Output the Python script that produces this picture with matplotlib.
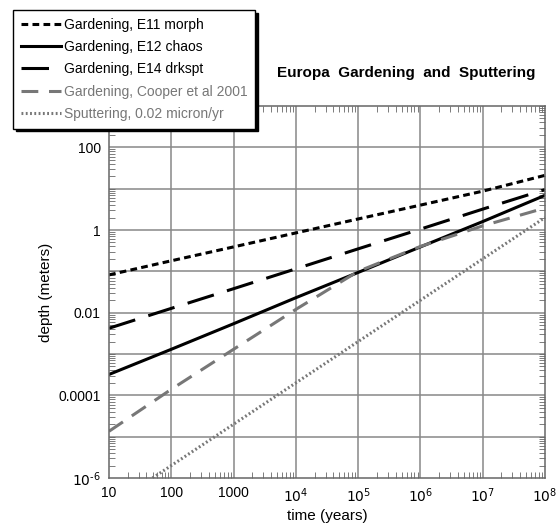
import numpy as np
import matplotlib
matplotlib.use('Agg')
import matplotlib.pyplot as plt
from matplotlib.ticker import LogLocator, FixedLocator, FixedFormatter, NullFormatter

plt.rcParams['font.family'] = ['Liberation Sans', 'DejaVu Sans']
plt.rcParams['axes.unicode_minus'] = False

# decade time points (years)
t_dec     = [10, 1e2, 1e3, 1e4, 1e5, 1e6, 1e7, 1e8]
# depths (meters)
e11_morph = [0.082, 0.18, 0.39, 0.85, 1.85, 4.0, 8.7, 21.0]
e12_chaos = [3.2e-4, 1.3e-3, 5.4e-3, 0.023, 0.094, 0.39, 1.6, 6.9]
e14_drk   = [4.2e-3, 0.0127, 0.038, 0.115, 0.35, 1.05, 3.2, 9.5]
cooper    = [1.35e-5, 1.4e-4, 1.3e-3, 0.012, 0.1, 0.4, 1.26, 3.4]
t_sput    = [50, 1e2, 1e3, 1e4, 1e5, 1e6, 1e7, 1e8]
sputter   = [1e-6, 2e-6, 2e-5, 2e-4, 2e-3, 0.02, 0.2, 2.0]

xtick_vals = [10, 1e2, 1e3, 1e4, 1e5, 1e6, 1e7, 1e8]
xtick_labs = ['10', '100', '1000', '$10^4$', '$10^5$', '$10^6$', '$10^7$', '$10^8$']
ytick_vals = [1e-6, 1e-4, 1e-2, 1, 100]
ytick_labs = [r'$10^{\text{-}6}$', '0.0001', '0.01', '1', '100']

fig = plt.figure(figsize=(5.6, 5.26), dpi=100)
ax = fig.add_axes([109/560, 1-478/526, 436/560, 372/526])

grey = '#777777'
ax.plot(t_dec, e11_morph, color='black', lw=2.2, ls=(0, (2.2, 1.4)), label='Gardening, E11 morph')
ax.plot(t_dec, e12_chaos, color='black', lw=2.2, ls='-', label='Gardening, E12 chaos')
ax.plot(t_dec, e14_drk, color='black', lw=2.2, ls=(0, (9, 4.5)), label='Gardening, E14 drkspt')
ax.plot(t_dec, cooper, color=grey, lw=2.2, ls=(0, (5.5, 3.5)), label='Gardening, Cooper et al 2001')
ax.plot(t_sput, sputter, color=grey, lw=2.2, ls=(0, (0.6, 0.8)), label='Sputtering, 0.02 micron/yr')

ax.set_xscale('log')
ax.set_yscale('log')
ax.set_xlim(10, 1e8)
ax.set_ylim(1e-6, 1e3)

ax.xaxis.set_major_locator(FixedLocator(xtick_vals))
ax.xaxis.set_major_formatter(FixedFormatter(xtick_labs))
ax.yaxis.set_major_locator(FixedLocator(ytick_vals))
ax.yaxis.set_major_formatter(FixedFormatter(ytick_labs))
ax.xaxis.set_minor_locator(LogLocator(base=10, subs=np.arange(2, 10), numticks=20))
ax.yaxis.set_minor_locator(LogLocator(base=10, subs=np.arange(1, 10), numticks=20))
ax.xaxis.set_minor_formatter(NullFormatter())
ax.yaxis.set_minor_formatter(NullFormatter())

ax.tick_params(which='both', direction='in', top=True, right=True, colors='#666666',
               labelcolor='black', labelsize=10)
ax.tick_params(which='major', length=0, pad=6)
ax.tick_params(which='minor', length=4, width=0.6)

for yv in [1e-5, 1e-4, 1e-3, 1e-2, 0.1, 1, 10, 100]:
    ax.axhline(yv, color='#888888', lw=1.1, zorder=0)
for xv in xtick_vals[1:-1]:
    ax.axvline(xv, color='#888888', lw=1.1, zorder=0)

for s in ax.spines.values():
    s.set_color('#666666')
    s.set_linewidth(1.1)

ax.set_xlabel('time (years)', fontsize=11, labelpad=3)
ax.set_ylabel('depth (meters)', fontsize=11, labelpad=4)

fig.text(535/560, 1-73/526, 'Europa  Gardening  and  Sputtering', ha='right', va='center',
         fontsize=11, fontweight='bold')

leg = fig.legend(loc='upper left', bbox_to_anchor=(13/560, 1-10/526), bbox_transform=fig.transFigure,
                 borderaxespad=0, fancybox=False, shadow={'color': 'black', 'alpha': 1},
                 edgecolor='black', framealpha=1, fontsize=10, labelcolor='linecolor',
                 handlelength=2.9, handletextpad=0.2, labelspacing=0.6, borderpad=0.55)
leg.get_frame().set_linewidth(1.0)

fig.savefig('out.png', dpi=100)
